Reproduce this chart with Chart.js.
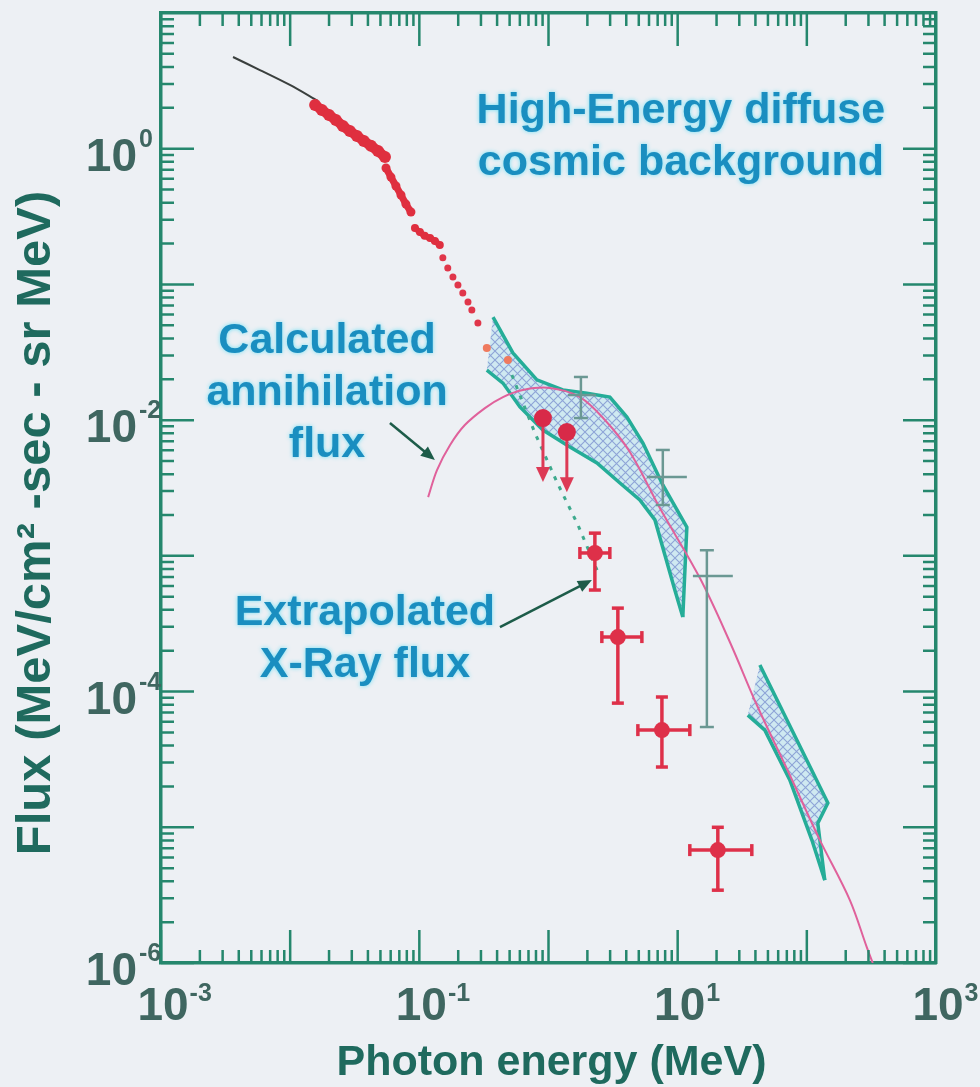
<!DOCTYPE html>
<html>
<head>
<meta charset="utf-8">
<script src="https://cdn.jsdelivr.net/npm/chart.js@4.4.1/dist/chart.umd.min.js"></script>
<style>
  html, body { margin: 0; padding: 0; background: #edf0f4; }
  canvas { display: block; }
</style>
</head>
<body>
<canvas id="chartFlux" width="980" height="1087"></canvas>
<script>
// Photon energy (MeV) and flux (MeV/cm2-sec-sr-MeV) for each series

// low energy curve (thin black)
const lowE = [0.00361, 0.00583, 0.00995, 0.0164];
const lowF = [4.74, 3.80, 2.95, 2.25];

// dense X-ray measurements, three runs
const redAE = [0.0156, 0.0176, 0.0200, 0.0226, 0.0256, 0.0290, 0.0329, 0.0372, 0.0422, 0.0479, 0.0542];
const redAF = [2.10, 1.93, 1.77, 1.63, 1.47, 1.35, 1.24, 1.14, 1.05, 0.962, 0.869];
const redBE = [0.0552, 0.0603, 0.0659, 0.0721, 0.0787, 0.0861];
const redBF = [0.721, 0.618, 0.531, 0.456, 0.391, 0.342];
const redCE = [0.0925, 0.101, 0.110, 0.121, 0.132, 0.144];
const redCF = [0.261, 0.243, 0.228, 0.220, 0.209, 0.195];
const redDotE = [0.152, 0.166, 0.182, 0.199, 0.217, 0.238, 0.255, 0.284];
const redDotF = [0.157, 0.132, 0.1135, 0.0991, 0.0865, 0.0741, 0.0647, 0.0520];
const orangeE = [0.333, 0.485];
const orangeF = [0.0340, 0.0277];

// extrapolated X-ray flux (dashed)
const extrapE = [0.521, 0.785, 1.161, 1.690, 2.410];
const extrapF = [0.0215, 0.00804, 0.00350, 0.00169, 0.000760];

// calculated annihilation flux
const annE = [0.117, 0.137, 0.173, 0.225, 0.322, 0.444, 0.634, 1.026, 1.750, 2.735, 4.266, 7.278,
              14.86, 25.35, 41.02, 73.8, 126.2, 215.3, 291, 324];
const annF = [0.00271, 0.00429, 0.00656, 0.00920, 0.01227, 0.0148, 0.0167, 0.01726, 0.0148, 0.01002,
              0.00582, 0.00225, 0.000686, 0.000232, 0.0000796, 0.0000243, 0.00000805, 0.00000291,
              0.00000131, 0.000001];

// diffuse background bands (upper / lower edges)
const band1UpE = [0.372, 0.530, 0.813, 1.291, 1.982, 2.985, 4.046, 5.383, 7.674, 11.78, 10.96];
const band1UpF = [0.0575, 0.0313, 0.0198, 0.0167, 0.0158, 0.0148, 0.01054, 0.00678, 0.00333, 0.00163, 0.000354];
const band1LoE = [0.333, 0.444, 0.601, 0.906, 1.466, 2.371, 3.573, 5.093, 6.668, 7.962, 9.506, 10.96];
const band1LoF = [0.0234, 0.01875, 0.01250, 0.00845, 0.00634, 0.00483, 0.00344, 0.00258, 0.00184,
                  0.001014, 0.000560, 0.000354];
const band2UpE = [43.3, 145.5, 121.6, 137.7];
const band2UpF = [0.000157, 0.0000151, 0.0000107, 0.00000408];
const band2LoE = [34.9, 47.3, 73.8, 109.4, 137.7];
const band2LoF = [0.0000671, 0.0000520, 0.0000223, 0.00000805, 0.00000408];

// points with error bars
const ptE = [2.286, 3.443, 7.551, 20.46];
const ptF = [0.00105, 0.000252, 0.0000520, 0.00000679];
const ptELo = [1.750, 2.588, 4.920, 12.42];
const ptEHi = [2.985, 5.284, 12.42, 37.5];
const ptFLo = [0.000560, 0.0000822, 0.0000278, 0.00000344];
const ptFHi = [0.00147, 0.000412, 0.0000912, 0.0000100];

// upper limits
const limE = [0.906, 1.387];
const limF = [0.01036, 0.00817];
const limTo = [0.00362, 0.00305];

// diffuse background measurements
const bgE = [1.782, 7.674, 16.83];
const bgF = [0.01531, 0.00381, 0.000710];
const bgELo = [1.413, 5.781, 13.12];
const bgEHi = [2.328, 11.78, 26.73];
const bgFLo = [0.01036, 0.00237, 0.0000548];
const bgFHi = [0.0208, 0.00603, 0.00110];

// tick label exponents
const xLabelExp = [-3, -1, 1, 3];
const yLabelExp = [0, -2, -4, -6];

// text blocks and pointer arrows, in data coordinates
const notes = [
  { x: 10.59, y: 1.545, lines: ['High-Energy diffuse', 'cosmic background'] },
  { x: 0.0193, y: 0.0313, lines: ['Calculated', 'annihilation', 'flux'] },
  { x: 0.0379, y: 0.000309, lines: ['Extrapolated', 'X-Ray flux'] },
];
const arrows = [
  { x0: 0.0592, y0: 0.00953, x1: 0.132, y1: 0.00508 },
  { x0: 0.421, y0: 0.000299, x1: 2.168, y1: 0.000664 },
];

const FONT = '"Liberation Sans", Arial, Helvetica, sans-serif';
const TEAL = '#25ad98';
const FRAME = '#25876d';

function pts(xs, ys) {
  return xs.map((x, i) => ({ x: x, y: ys[i] }));
}

function hatch() {
  const c = document.createElement('canvas');
  c.width = 9; c.height = 9;
  const g = c.getContext('2d');
  g.fillStyle = 'rgba(170, 225, 238, 0.45)';
  g.fillRect(0, 0, 9, 9);
  g.strokeStyle = 'rgba(120, 140, 205, 0.75)';
  g.lineWidth = 1.1;
  g.beginPath();
  g.moveTo(0, 0); g.lineTo(9, 9);
  g.moveTo(0, 9); g.lineTo(9, 0);
  g.stroke();
  return g.createPattern(c, 'repeat');
}

function line(ctx, a, b, c, d) {
  ctx.beginPath(); ctx.moveTo(a, b); ctx.lineTo(c, d); ctx.stroke();
}

const bgFill = {
  id: 'bgFill',
  beforeDraw(chart) {
    const ctx = chart.ctx;
    ctx.save();
    ctx.fillStyle = '#edf0f4';
    ctx.fillRect(0, 0, chart.width, chart.height);
    ctx.restore();
  }
};

// error bars and upper limit arrows, drawn under the point markers
const errorBars = {
  id: 'errorBars',
  beforeDatasetDraw(chart, args) {
    const ds = chart.data.datasets[args.index];
    const eb = ds.errorBars;
    if (!eb) return;
    const xs = chart.scales.x, ys = chart.scales.y, ctx = chart.ctx;
    ctx.save();
    ctx.strokeStyle = eb.color;
    ctx.fillStyle = eb.color;
    ctx.lineWidth = eb.width;
    ds.data.forEach((p, i) => {
      const px = xs.getPixelForValue(p.x), py = ys.getPixelForValue(p.y);
      if (eb.xlo) {
        const a = xs.getPixelForValue(eb.xlo[i]), b = xs.getPixelForValue(eb.xhi[i]);
        line(ctx, a, py, b, py);
        if (eb.capX) {
          line(ctx, a, py - eb.capX, a, py + eb.capX);
          line(ctx, b, py - eb.capX, b, py + eb.capX);
        }
      }
      if (eb.ylo) {
        const a = ys.getPixelForValue(eb.ylo[i]), b = ys.getPixelForValue(eb.yhi[i]);
        line(ctx, px, a, px, b);
        if (eb.capY) {
          line(ctx, px - eb.capY, a, px + eb.capY, a);
          line(ctx, px - eb.capY, b, px + eb.capY, b);
        }
      }
      if (eb.limit) {
        const b = ys.getPixelForValue(eb.limit[i]);
        line(ctx, px, py, px, b - 10);
        ctx.beginPath();
        ctx.moveTo(px - 7, b - 13);
        ctx.lineTo(px + 7, b - 13);
        ctx.lineTo(px, b + 2);
        ctx.closePath();
        ctx.fill();
      }
    });
    ctx.restore();
  }
};

// inward ticks on all four sides, tick labels, axis titles, notes
const frameDecor = {
  id: 'frameDecor',
  afterDatasetsDraw(chart) {
    const ctx = chart.ctx, a = chart.chartArea;
    const xs = chart.scales.x, ys = chart.scales.y;
    ctx.save();
    ctx.strokeStyle = FRAME;
    ctx.lineWidth = 2.5;
    ctx.beginPath();
    const x0 = Math.round(Math.log10(xs.min)), x1 = Math.round(Math.log10(xs.max));
    for (let d = x0; d < x1; d++) {
      for (let k = 1; k < 10; k++) {
        const px = xs.getPixelForValue(k * Math.pow(10, d));
        const len = k === 1 ? 33 : 13;
        ctx.moveTo(px, a.bottom); ctx.lineTo(px, a.bottom - len);
        ctx.moveTo(px, a.top); ctx.lineTo(px, a.top + len);
      }
    }
    const y0 = Math.round(Math.log10(ys.min)), y1 = Math.round(Math.log10(ys.max));
    for (let d = y0; d < y1; d++) {
      for (let k = 1; k < 10; k++) {
        const py = ys.getPixelForValue(k * Math.pow(10, d));
        const len = k === 1 ? 33 : 13;
        ctx.moveTo(a.left, py); ctx.lineTo(a.left + len, py);
        ctx.moveTo(a.right, py); ctx.lineTo(a.right - len, py);
      }
    }
    ctx.stroke();

    // tick labels: 10 with raised exponent
    ctx.fillStyle = '#3f6660';
    ctx.textBaseline = 'alphabetic';
    yLabelExp.forEach(e => {
      const py = ys.getPixelForValue(Math.pow(10, e));
      ctx.font = 'bold 46px ' + FONT;
      ctx.textAlign = 'right';
      ctx.fillText('10', 137, py + 22);
      ctx.font = 'bold 25px ' + FONT;
      ctx.textAlign = 'left';
      ctx.fillText(String(e), 139, py - 2);
    });
    xLabelExp.forEach(e => {
      const px = xs.getPixelForValue(Math.pow(10, e));
      ctx.font = 'bold 46px ' + FONT;
      ctx.textAlign = 'center';
      ctx.fillText('10', px + 2, a.bottom + 57);
      const w = ctx.measureText('10').width;
      ctx.font = 'bold 25px ' + FONT;
      ctx.textAlign = 'left';
      ctx.fillText(String(e), px + 2 + w / 2 + 1, a.bottom + 38);
    });

    // axis titles
    ctx.fillStyle = '#1f6a5e';
    ctx.font = 'bold 43px ' + FONT;
    ctx.textAlign = 'center';
    ctx.fillText('Photon energy (MeV)', (a.left + a.right) / 2 + 3, a.bottom + 112);
    ctx.save();
    ctx.translate(50, (a.top + a.bottom) / 2 + 35);
    ctx.rotate(-Math.PI / 2);
    ctx.font = 'bold 49px ' + FONT;
    ctx.fillText('Flux (MeV/cm\u00b2 -sec - sr MeV)', 0, 0);
    ctx.restore();

    // pointer arrows
    ctx.strokeStyle = '#1d5c49';
    ctx.fillStyle = '#1d5c49';
    ctx.lineWidth = 2.5;
    arrows.forEach(r => {
      const ax = xs.getPixelForValue(r.x0), ay = ys.getPixelForValue(r.y0);
      const bx = xs.getPixelForValue(r.x1), by = ys.getPixelForValue(r.y1);
      const ang = Math.atan2(by - ay, bx - ax);
      line(ctx, ax, ay, bx - 8 * Math.cos(ang), by - 8 * Math.sin(ang));
      ctx.beginPath();
      ctx.moveTo(bx, by);
      ctx.lineTo(bx - 14 * Math.cos(ang) + 6 * Math.sin(ang), by - 14 * Math.sin(ang) - 6 * Math.cos(ang));
      ctx.lineTo(bx - 14 * Math.cos(ang) - 6 * Math.sin(ang), by - 14 * Math.sin(ang) + 6 * Math.cos(ang));
      ctx.closePath();
      ctx.fill();
    });

    // text notes
    ctx.font = 'bold 43px ' + FONT;
    ctx.textAlign = 'center';
    ctx.fillStyle = '#1a8ec0';
    ctx.shadowColor = 'rgba(80, 220, 245, 0.8)';
    ctx.shadowBlur = 4;
    notes.forEach(n => {
      const px = xs.getPixelForValue(n.x), py = ys.getPixelForValue(n.y);
      n.lines.forEach((t, i) => ctx.fillText(t, px, py + i * 52));
    });
    ctx.restore();
  }
};

const hatchFill = hatch();
const band1Poly = pts(band1UpE, band1UpF).concat(pts(band1LoE, band1LoF).reverse());
const band2Poly = pts(band2UpE, band2UpF).concat(pts(band2LoE, band2LoF).reverse());

const edge = (data) => ({
  type: 'line', data: data, borderColor: TEAL, borderWidth: 3.5,
  pointRadius: 0, fill: false, tension: 0
});
const redRun = (data, w) => ({
  type: 'line', data: data, borderColor: '#df2f3f', borderWidth: w,
  pointRadius: w / 2 + 1, pointBackgroundColor: '#df2f3f', pointBorderWidth: 0,
  fill: false, tension: 0.2, borderCapStyle: 'round'
});

const logAxis = (pos, min, max) => ({
  type: 'logarithmic', position: pos, min: min, max: max,
  ticks: { display: false },
  grid: { display: false, drawTicks: false },
  border: { display: true, color: FRAME, width: 3.5 },
  title: { display: false }
});

new Chart(document.getElementById('chartFlux'), {
  type: 'scatter',
  data: {
    datasets: [
      {
        data: pts(ptE, ptF), pointRadius: 8, pointBackgroundColor: '#de3049', pointBorderWidth: 0,
        errorBars: { xlo: ptELo, xhi: ptEHi, ylo: ptFLo, yhi: ptFHi, color: '#de3049', width: 3.5, capX: 6, capY: 6 }
      },
      {
        data: pts(limE, limF), pointRadius: 9, pointBackgroundColor: '#d82a48', pointBorderWidth: 0,
        errorBars: { limit: limTo, color: '#dd3a55', width: 3 }
      },
      redRun(pts(redAE, redAF), 10),
      redRun(pts(redBE, redBF), 7),
      redRun(pts(redCE, redCF), 6),
      { data: pts(redDotE, redDotF), pointRadius: 3.5, pointBackgroundColor: '#e0364a', pointBorderWidth: 0 },
      { data: pts(orangeE, orangeF), pointRadius: 4, pointBackgroundColor: '#ef7a5e', pointBorderWidth: 0 },
      {
        type: 'line', data: pts(extrapE, extrapF), borderColor: '#3eaa8e', borderWidth: 3,
        borderDash: [4, 7], pointRadius: 0, fill: false
      },
      {
        data: pts(bgE, bgF), pointRadius: 0,
        errorBars: { xlo: bgELo, xhi: bgEHi, ylo: bgFLo, yhi: bgFHi, color: '#6b9893', width: 2.5, capY: 7 }
      },
      {
        type: 'line', data: pts(annE, annF), borderColor: '#e0619b', borderWidth: 2,
        pointRadius: 0, fill: false, tension: 0.35
      },
      { type: 'line', data: pts(lowE, lowF), borderColor: '#3a3f3d', borderWidth: 2, pointRadius: 0, fill: false, tension: 0.3 },
      edge(pts(band1UpE, band1UpF)),
      edge(pts(band1LoE, band1LoF)),
      edge(pts(band2UpE, band2UpF)),
      edge(pts(band2LoE, band2LoF)),
      { type: 'line', data: band1Poly, backgroundColor: hatchFill, borderWidth: 0, pointRadius: 0, fill: 'shape' },
      { type: 'line', data: band2Poly, backgroundColor: hatchFill, borderWidth: 0, pointRadius: 0, fill: 'shape' }
    ]
  },
  options: {
    responsive: false,
    animation: false,
    devicePixelRatio: 1,
    layout: { padding: { left: 161, right: 44, top: 13, bottom: 124 } },
    plugins: {
      legend: { display: false },
      tooltip: { enabled: false }
    },
    scales: {
      x: logAxis('bottom', 0.001, 1000),
      xTop: logAxis('top', 0.001, 1000),
      y: logAxis('left', 0.000001, 10),
      yRight: logAxis('right', 0.000001, 10)
    }
  },
  plugins: [bgFill, errorBars, frameDecor]
});
</script>
</body>
</html>
